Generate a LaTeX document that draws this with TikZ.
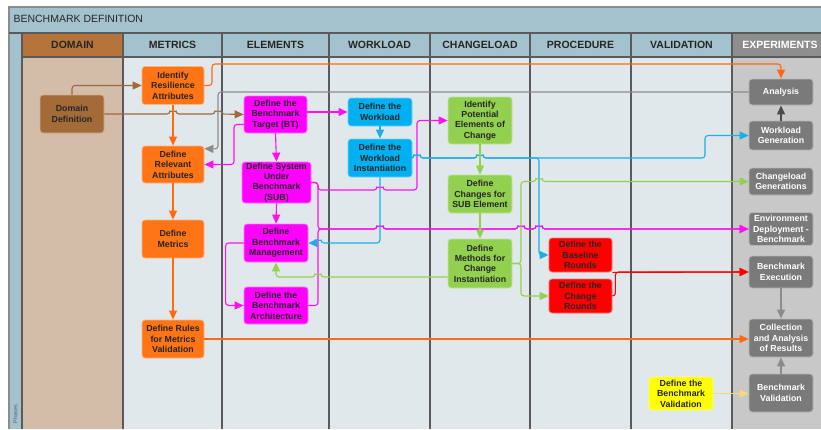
\documentclass[tikz,border=0pt]{standalone}
\usepackage{fontspec}
\setmainfont{Liberation Sans}
\usetikzlibrary{arrows.meta,positioning,calc}
% lane colours
\definecolor{lanebg}{HTML}{E0E8EC}
\definecolor{lanehd}{HTML}{A3C2CE}
\definecolor{domhd}{HTML}{B5743A}
\definecolor{dombg}{HTML}{D3BCA8}
\definecolor{exphd}{HTML}{8E8E8E}
\definecolor{expbg}{HTML}{C8C8C8}
\definecolor{sepline}{HTML}{5A5A5A}
% box colours
\definecolor{brownbox}{HTML}{A26B38}
\definecolor{orangebox}{HTML}{FF7414}
\definecolor{magbox}{HTML}{FF00FF}
\definecolor{cyanbox}{HTML}{00B0F0}
\definecolor{greenbox}{HTML}{92D050}
\definecolor{redbox}{HTML}{FF0000}
\definecolor{yellowbox}{HTML}{FFFF00}
\definecolor{graybox}{HTML}{7A7A7A}
% line colours
\definecolor{brownln}{HTML}{9C6A3C}
\definecolor{orangeln}{HTML}{FF6A10}
\definecolor{grayln}{HTML}{8C8C8C}
\definecolor{dkgrayln}{HTML}{4A4A4A}
\definecolor{magln}{HTML}{FF10F0}
\definecolor{cyanln}{HTML}{1AAFE8}
\definecolor{greenln}{HTML}{92D050}
\definecolor{redln}{HTML}{FF0000}
\definecolor{yellowln}{HTML}{F5D97A}

\begin{document}
\begin{tikzpicture}[x=1pt, y=-1pt, >={Triangle[length=9pt,width=8pt]},
  task/.style={rectangle, rounded corners=3pt, fill=#1, draw=#1!55!white,
    line width=0.8pt, minimum width=63pt, minimum height=38pt, inner sep=0pt,
    align=center, font=\fontsize{8.8}{10.4}\selectfont\bfseries, text=black!85},
  exptask/.style={task=graybox, text=white, minimum width=64pt},
  lanehead/.style={font=\fontsize{10.5}{12}\selectfont\bfseries, text=black!85},
  flow/.style={->, line width=1.1pt, rounded corners=3pt, draw=#1},
  lanesep/.style={draw=sepline, line width=1.2pt}]
  \useasboundingbox (0,0) rectangle (821,429);
  % pool and lanes
  \fill[lanebg] (22,57) rectangle (821,429);
  \fill[dombg] (22,57) rectangle (123,429);
  \fill[expbg] (732,57) rectangle (821,429);
  \fill[lanehd] (9,7) rectangle (821,57);
  \fill[lanehd] (9,7) rectangle (22,429);
  \fill[domhd] (22,33) rectangle (123,57);
  \fill[exphd] (732,33) rectangle (821,57);
  \draw[draw=grayln, line width=1.5pt] (9,429) -- (9,7) -- (821,7);
  \draw[lanesep] (9,33) -- (821,33);
  \draw[lanesep] (22,57) -- (821,57);
  \draw[lanesep] (22,33) -- (22,429);
  \draw[lanesep] (123,33) -- (123,429);
  \draw[lanesep] (222,33) -- (222,429);
  \draw[lanesep] (329,33) -- (329,429);
  \draw[lanesep] (430,33) -- (430,429);
  \draw[lanesep] (530,33) -- (530,429);
  \draw[lanesep] (631,33) -- (631,429);
  \draw[lanesep] (732,33) -- (732,429);
  \node[anchor=west, font=\fontsize{10.5}{12}\selectfont, text=black!85] (title) at (10,19) {BENCHMARK DEFINITION};
  \node[rotate=90, anchor=west, font=\fontsize{5.5}{6}\selectfont, text=black!65] (phases) at (15.5,427) {Phases};
  \node[lanehead] (hdom) at (72.5,45) {DOMAIN};
  \node[lanehead] (hmet) at (172.5,45) {METRICS};
  \node[lanehead] (hele) at (275.5,45) {ELEMENTS};
  \node[lanehead] (hwor) at (379.5,45) {WORKLOAD};
  \node[lanehead] (hcha) at (480,45) {CHANGELOAD};
  \node[lanehead] (hpro) at (580.5,45) {PROCEDURE};
  \node[lanehead] (hval) at (681.5,45) {VALIDATION};
  \node[lanehead, text=white] (hexp) at (780,45) {EXPERIMENTS};

  % tasks
  \node[task=brownbox, minimum width=64pt] (dom) at (72,114) {Domain\\Definition};
  \node[task=orangebox, minimum width=62pt] (ira) at (173,85.5) {Identify\\Resilience\\Attributes};
  \node[task=orangebox, minimum width=62pt, minimum height=37pt] (ra) at (173,164.5) {Define\\Relevant\\Attributes};
  \node[task=orangebox, minimum width=62pt] (dm) at (173,239) {Define\\Metrics};
  \node[task=orangebox, minimum width=62pt] (drm) at (173,339) {Define Rules\\for Metrics\\Validation};
  \node[task=magbox, minimum height=37pt] (bt) at (275.5,114.5) {Define the\\Benchmark\\Target (BT)};
  \node[task=magbox, minimum width=69pt, minimum height=41pt] (sub) at (276.5,182.5) {Define System\\Under\\Benchmark\\(SUB)};
  \node[task=magbox, minimum width=64pt] (bm) at (276,243) {Define\\Benchmark\\Management};
  \node[task=magbox, minimum width=64pt, minimum height=37pt] (ba) at (276,305.5) {Define the\\Benchmark\\Architecture};
  \node[task=cyanbox, minimum width=64pt, minimum height=28pt] (dw) at (380,112) {Define the\\Workload};
  \node[task=cyanbox, minimum width=64pt] (dwi) at (380,158) {Define the\\Workload\\Instantiation};
  \node[task=greenbox, minimum width=64pt, minimum height=47pt] (ipe) at (480,120.5) {Identify\\Potential\\Elements of\\Change};
  \node[task=greenbox, minimum width=64pt] (dcs) at (480,194) {Define\\Changes for\\SUB Element};
  \node[task=greenbox, minimum width=64pt, minimum height=49pt] (dmc) at (480,263.5) {Define\\Methods for\\Change\\Instantiation};
  \node[task=redbox, minimum height=34pt] (dbr) at (580.5,255) {Define the\\Baseline\\Rounds};
  \node[task=redbox, minimum height=34pt] (dcr) at (580.5,296) {Define the\\Change\\Rounds};
  \node[task=yellowbox, minimum width=64pt, minimum height=33pt] (dbv) at (681,393.5) {Define the\\Benchmark\\Validation};
  \node[exptask, minimum height=26pt] (ana) at (781,92) {Analysis};
  \node[exptask, minimum height=29pt] (wg) at (781,135.5) {Workload\\Generation};
  \node[exptask, minimum height=27pt] (cg) at (781,181.5) {Changeload\\Generations};
  \node[exptask, minimum height=33pt] (ed) at (781,229) {Environment\\Deployment -\\Benchmark};
  \node[exptask, minimum height=32pt] (ex) at (781,272) {Benchmark\\Execution};
  \node[exptask] (col) at (781,338) {Collection\\and Analysis\\of Results};
  \node[exptask] (bv) at (781,393) {Benchmark\\Validation};

  % flows (small hops where a line jumps over another one)
  \draw[flow=brownln] (dom.north) |- (ira.west);
  \draw[flow=brownln] (dom.east) -- (170,114) arc[start angle=180, end angle=0, radius=3pt]
    -- (215,114) arc[start angle=180, end angle=0, radius=3pt] -- (bt.west);
  \draw[flow=orangeln] (ira.south) -- (ra.north);
  \draw[flow=orangeln] (ira.east) -| (212,64) -| (ana.north);
  \draw[flow=grayln] (ana.west) -| (218,149) -- ([yshift=-3pt]ra.north east);
  \draw[flow=dkgrayln] (wg.north) -- (ana.south);
  \draw[flow=magln] ([yshift=-10pt]bt.west) -| (234,164.5) -- (ra.east);
  \draw[flow=magln] (bt.south) -- (sub.north);
  \draw[flow=magln] (bt.east |- dw.west) -- (dw.west);
  \draw[flow=cyanln] (dw.south) -- (dwi.north);
  \draw[flow=magln] (sub.east) -- (318,182.5) -- (318,190) -- (377,190)
    arc[start angle=180, end angle=0, radius=3pt] -- (417,190) |- (ipe.west);
  \draw[flow=magln] (sub.east) -- (318,182.5) -- (318,229) -- (377,229)
    arc[start angle=180, end angle=0, radius=3pt] -- (518,229)
    arc[start angle=180, end angle=0, radius=3pt] -- (536,229)
    arc[start angle=180, end angle=0, radius=3pt] -- (ed.west);
  \draw[flow=magln] (ba.east) -- (318,305.5) -- (318,229) -- (377,229)
    arc[start angle=180, end angle=0, radius=3pt] -- (518,229)
    arc[start angle=180, end angle=0, radius=3pt] -- (536,229)
    arc[start angle=180, end angle=0, radius=3pt] -- (ed.west);
  \draw[flow=cyanln] (dwi.east) -- (414,158) arc[start angle=180, end angle=0, radius=3pt]
    -- (477,158) arc[start angle=180, end angle=0, radius=3pt] -- (705,158) |- (wg.west);
  \draw[flow=cyanln] (dwi.east) -- (414,158) arc[start angle=180, end angle=0, radius=3pt]
    -- (477,158) arc[start angle=180, end angle=0, radius=3pt] -- (539,158) |- (dbr.west);
  \draw[flow=cyanln] (dwi.south) -- (380,243) -- (321,243)
    arc[start angle=0, end angle=180, radius=3pt] -- (bm.east);
  \draw[flow=greenln] (ipe.south) -- (dcs.north);
  \draw[flow=greenln] (dcs.south) -- (dmc.north);
  \draw[flow=greenln] ([yshift=-13.5pt]dmc.west) -- (321,277)
    arc[start angle=0, end angle=180, radius=3pt] -- (276,277) -- (bm.south);
  \draw[flow=greenln] (dmc.east) -- (521,263.5) -- (521,181.5) -- (536,181.5)
    arc[start angle=180, end angle=0, radius=3pt] -- (cg.west);
  \draw[flow=greenln] (dmc.east) -- (521,263.5) |- (dcr.west);
  \draw[flow=redln] (dbr.south east) -- (ex.west);
  \draw[flow=redln] (dcr.east) -- ++(3,0) |- (ex.west);
  \draw[flow=grayln] (ex.south) -- (col.north);
  \draw[flow=orangeln] (drm.east) -- (drm.east -| col.west);
  \draw[flow=orangeln] (ra.south) -- (dm.north);
  \draw[flow=orangeln] (dm.south) -- (drm.north);
  \draw[flow=yellowln] (dbv.east) -- (dbv.east -| bv.west);
  \draw[flow=grayln] (bv.north) -- (col.south);
  \draw[flow=magln] (sub.south) -- (bm.north);
  \draw[flow=magln] (bm.west) -- ++(-18,0) |- (ba.west);
\end{tikzpicture}
\end{document}
